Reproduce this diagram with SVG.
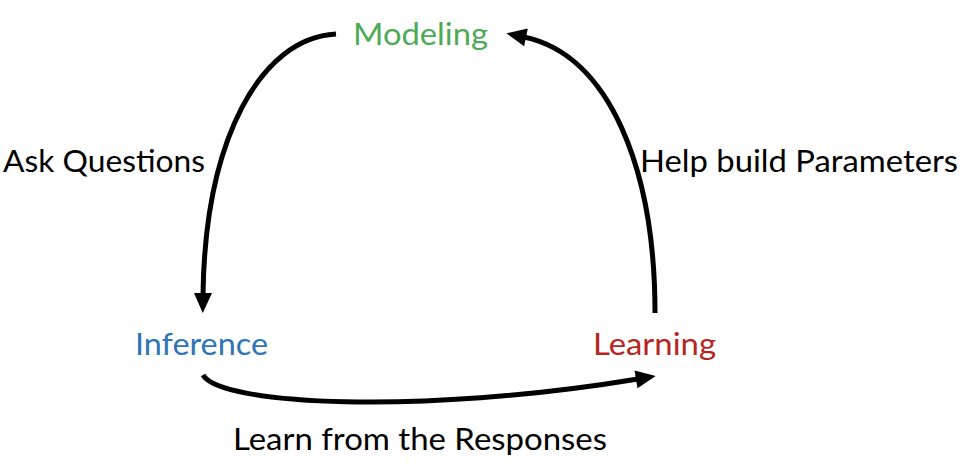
<svg xmlns="http://www.w3.org/2000/svg" width="966" height="468" viewBox="0 0 966 468">
<style>
text{font-family:Lato,"Liberation Sans",sans-serif;font-size:31px}
.lbl{fill:#000}
.c{fill:none;stroke:#000;stroke-width:5;stroke-linecap:butt}
</style>
<defs>
<marker id="ah" markerUnits="userSpaceOnUse" markerWidth="24" markerHeight="20" refX="2" refY="9" orient="auto" overflow="visible">
<path d="M0,0 L20,9 L0,18 z" fill="#000"/>
</marker>
</defs>
<rect width="966" height="468" fill="#fff"/>
<g id="connectors">
<path class="c" d="M336,34 C260,38 205,140 203,295" marker-end="url(#ah)"/>
<path class="c" d="M655,313 C655,170 610,55 524,37" marker-end="url(#ah)"/>
<path class="c" d="M203,375 C220,405 420,415 638,379" marker-end="url(#ah)"/>
</g>
<g id="modeling"><text x="353" y="45" fill="#4DAA57" textLength="135" lengthAdjust="spacingAndGlyphs">Modeling</text></g>
<g id="inference"><text x="135" y="355" fill="#2F75B5" textLength="133" lengthAdjust="spacingAndGlyphs">Inference</text></g>
<g id="learning"><text x="593" y="355" fill="#B4261F" textLength="123" lengthAdjust="spacingAndGlyphs">Learning</text></g>
<g id="labels">
<text class="lbl" x="3" y="172" textLength="202" lengthAdjust="spacingAndGlyphs">Ask Questions</text>
<text class="lbl" x="640" y="172" textLength="318" lengthAdjust="spacingAndGlyphs">Help build Parameters</text>
<text class="lbl" x="233" y="450" textLength="374" lengthAdjust="spacingAndGlyphs">Learn from the Responses</text>
</g>
</svg>
